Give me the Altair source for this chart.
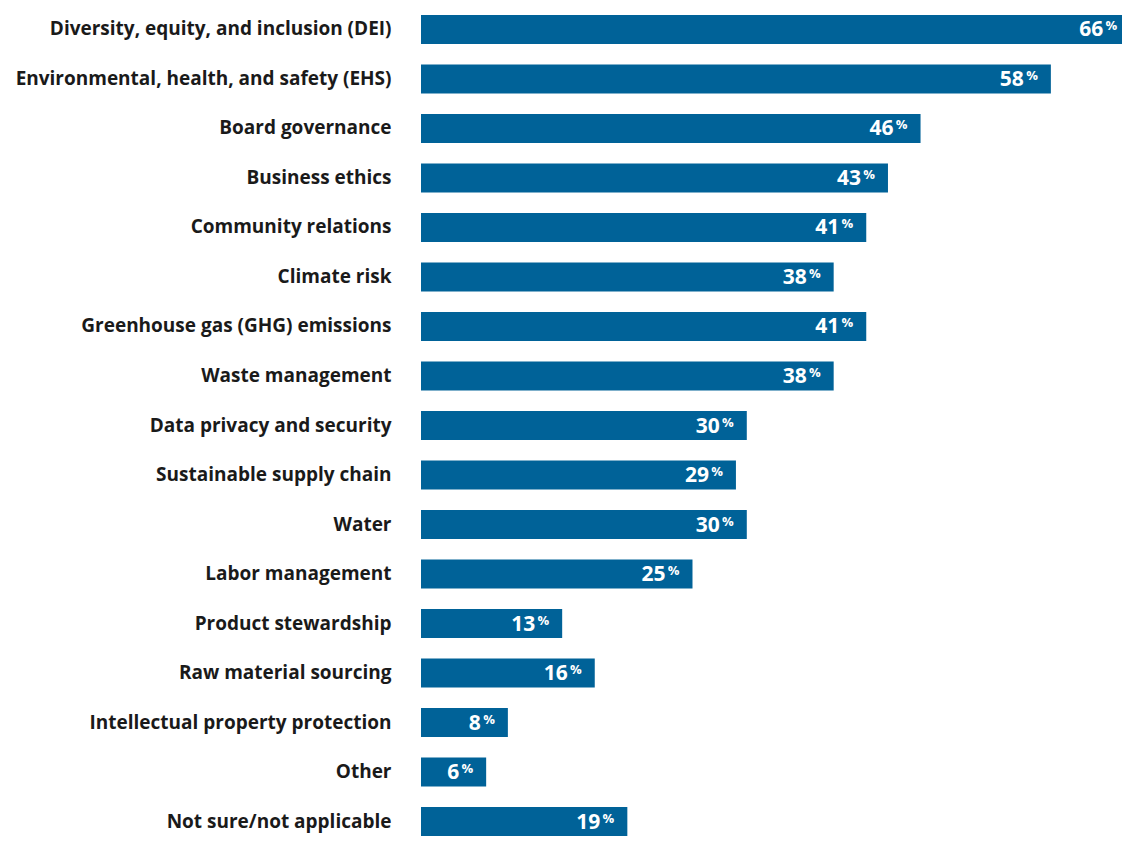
import altair as alt
import pandas as pd

categories = [
    "Diversity, equity, and inclusion (DEI)",
    "Environmental, health, and safety (EHS)",
    "Board governance",
    "Business ethics",
    "Community relations",
    "Climate risk",
    "Greenhouse gas (GHG) emissions",
    "Waste management",
    "Data privacy and security",
    "Sustainable supply chain",
    "Water",
    "Labor management",
    "Product stewardship",
    "Raw material sourcing",
    "Intellectual property protection",
    "Other",
    "Not sure/not applicable",
]
values = [66, 58, 46, 43, 41, 38, 41, 38, 30, 29, 30, 25, 13, 16, 8, 6, 19]

df = pd.DataFrame({"category": categories, "value": values, "pct": ["%"] * len(values)})

FONT = "Open Sans"
BLUE = "#006298"

y = alt.Y(
    "category:N",
    sort=categories,
    title=None,
    scale=alt.Scale(paddingInner=0.414, paddingOuter=0.141),
    axis=alt.Axis(
        labelFont=FONT,
        labelFontWeight="bold",
        labelFontSize=19,
        labelColor="#1a1a1a",
        labelPadding=30,
        labelLimit=600,
        ticks=False,
        domain=False,
        grid=False,
    ),
)
x = alt.X("value:Q", scale=alt.Scale(domain=[0, 64.55], nice=False), axis=None)
xl = alt.X("label_x:Q", scale=alt.Scale(domain=[0, 64.55], nice=False), axis=None)

base = alt.Chart(df).transform_calculate(label_x="min(datum.value, 65.3)")
bars = base.mark_bar(color=BLUE, clip=True).encode(x=x, y=y)
nums = base.mark_text(
    align="right", baseline="middle", dx=-27, dy=1,
    font=FONT, fontWeight="bold", fontSize=21, color="white",
).encode(x=xl, y=y, text="value:Q")
pcts = base.mark_text(
    align="right", baseline="middle", dx=-13, dy=-3,
    font=FONT, fontWeight="bold", fontSize=13, color="white",
).encode(x=xl, y=y, text="pct:N")

chart = (
    alt.layer(bars, nums, pcts)
    .properties(
        width=701,
        height=835,
        padding={"left": 413, "top": 0, "right": 0, "bottom": 0},
        autosize=alt.AutoSizeParams(type="none"),
    )
    .configure_view(stroke=None)
)

chart.save("out.html", embed_options={"renderer": "svg", "actions": False})
